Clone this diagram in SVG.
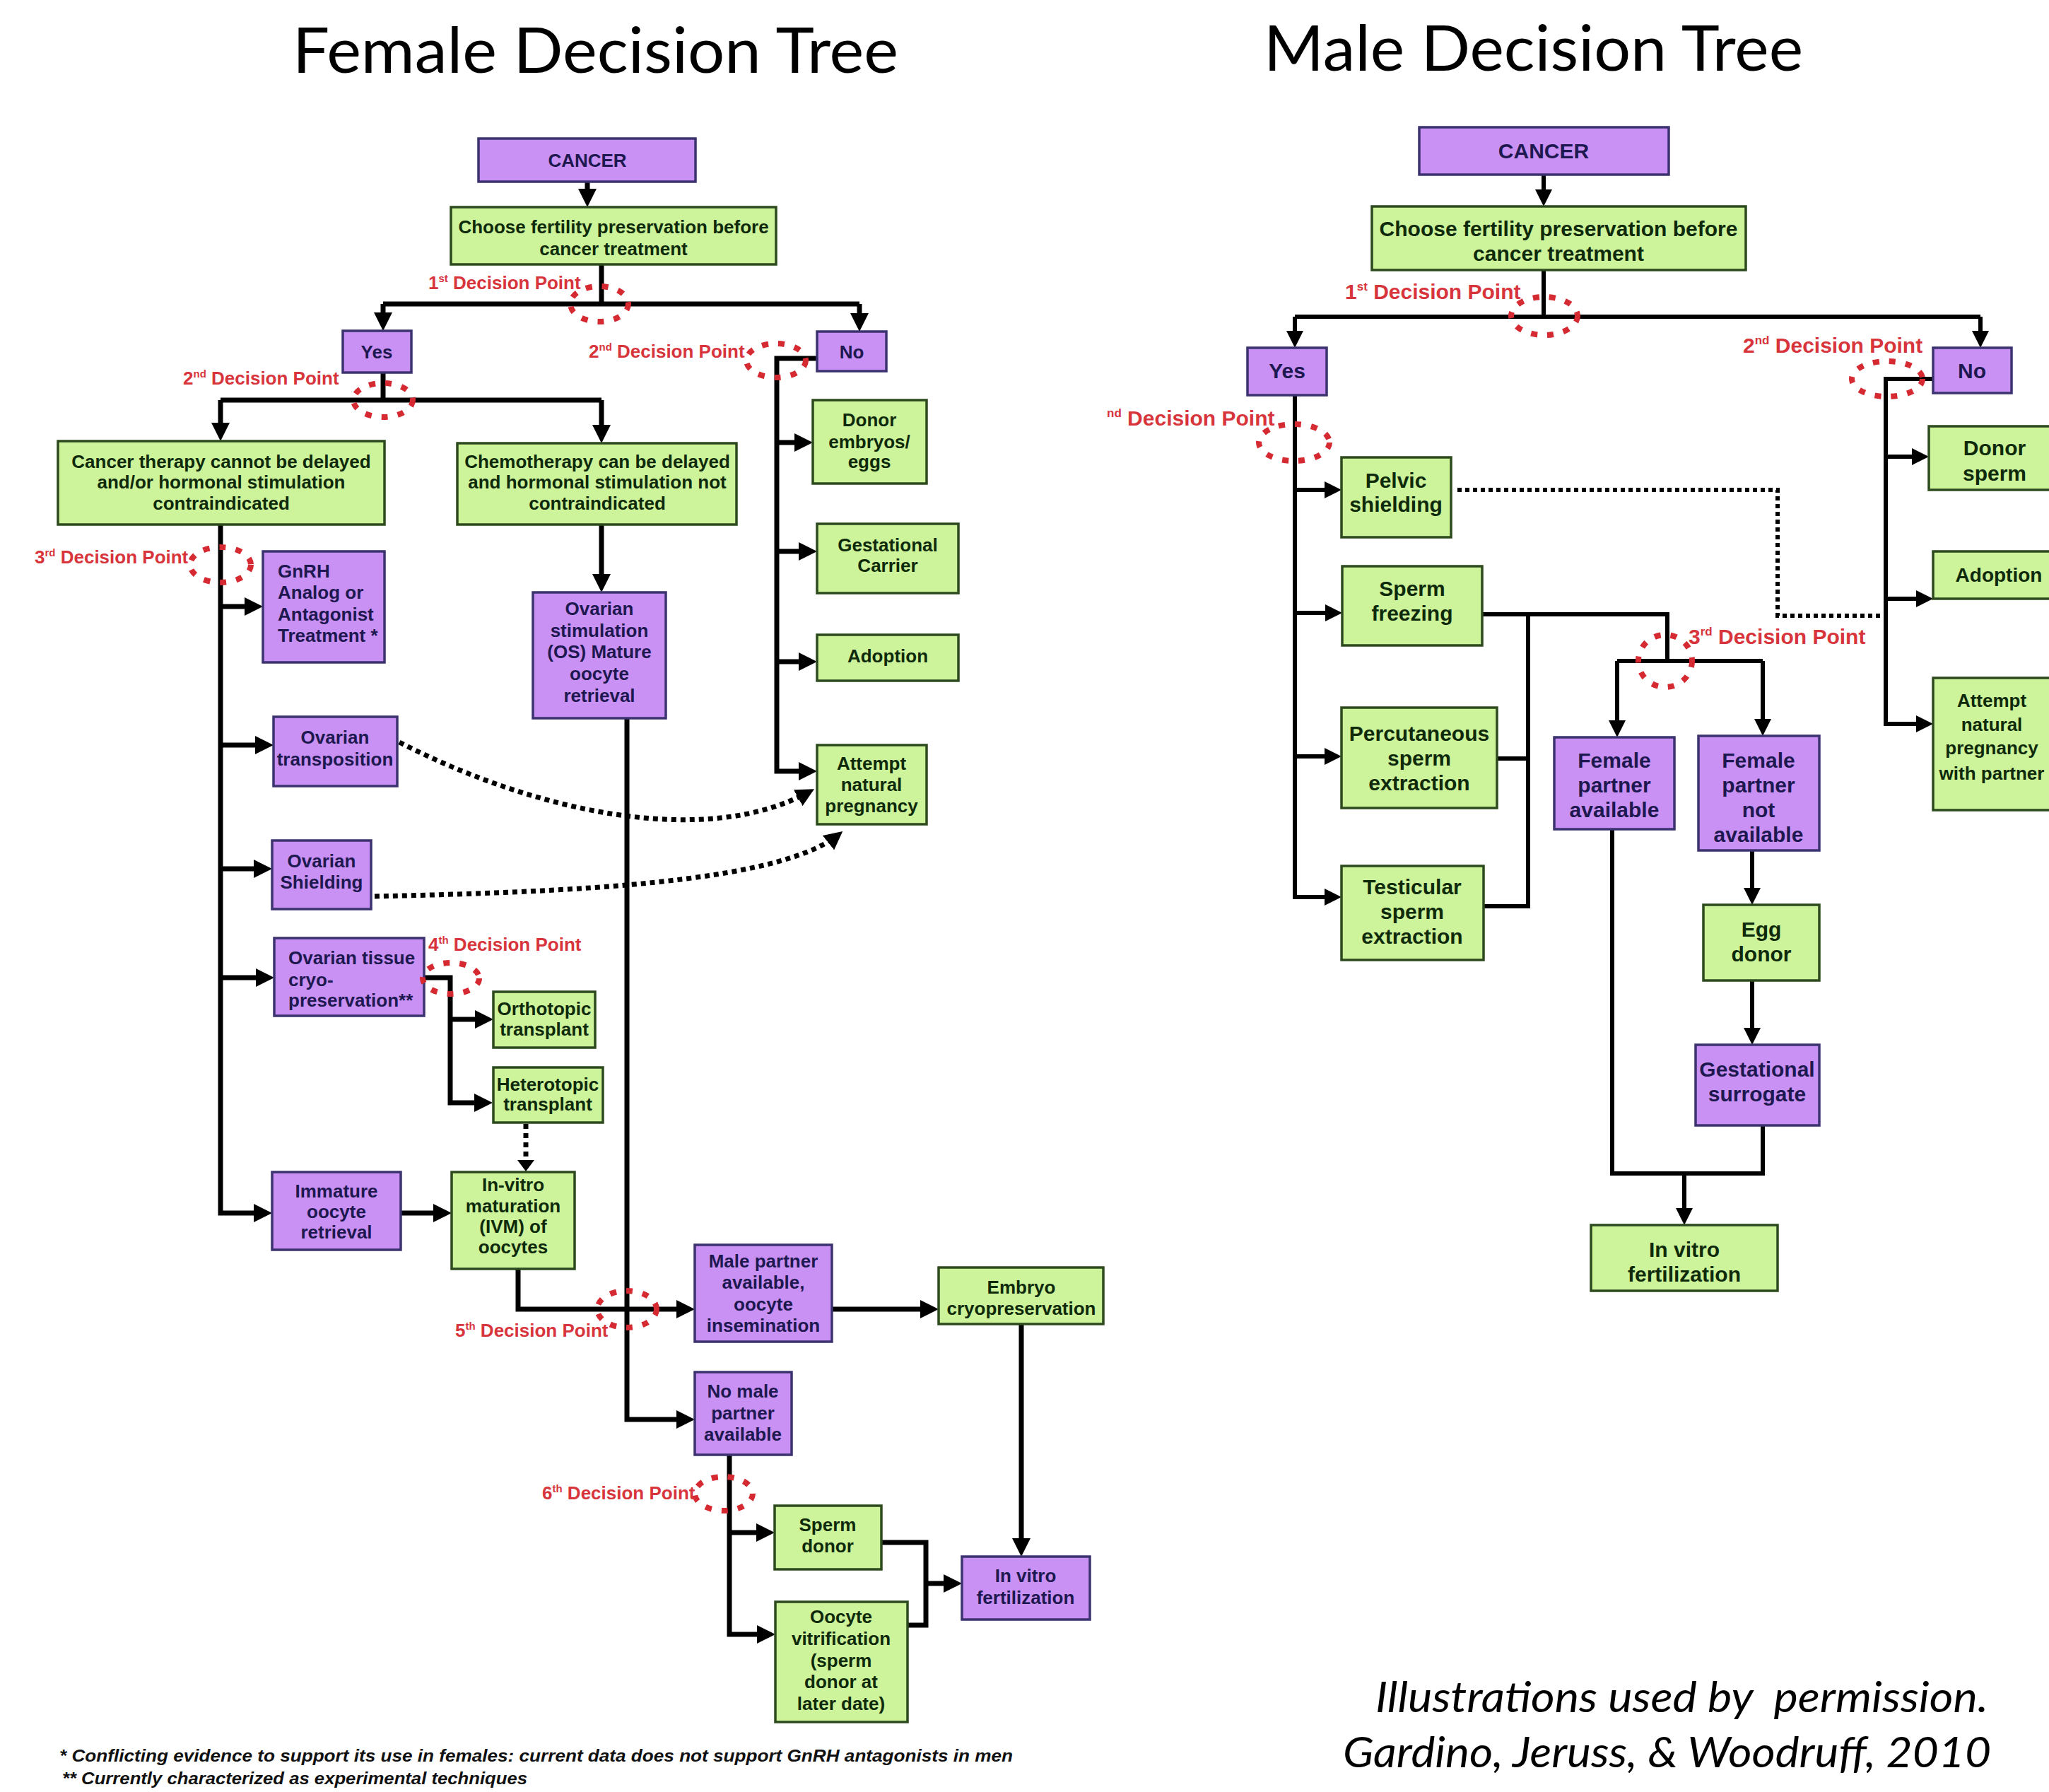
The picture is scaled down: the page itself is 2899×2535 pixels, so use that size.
<svg xmlns="http://www.w3.org/2000/svg" width="2899" height="2535" viewBox="0 0 2899 2535">
<defs>
<style>
.p{fill:#C991F4;stroke:#3b3270;stroke-width:3.5}
.g{fill:#CDF39B;stroke:#2c4a1e;stroke-width:3.5}
.tf{font-family:"Liberation Sans",Arial,sans-serif;font-weight:bold;font-size:26px;text-anchor:middle}
.tm{font-family:"Liberation Sans",Arial,sans-serif;font-weight:bold;font-size:30px;text-anchor:middle}
.st{text-anchor:start}
.tp{fill:#1e1850}
.tg{fill:#0e2a0a}
.dpf{font-family:"Liberation Sans",Arial,sans-serif;font-weight:bold;font-size:26px;fill:#d8343c}
.dpm{font-family:"Liberation Sans",Arial,sans-serif;font-weight:bold;font-size:30px;fill:#d8343c}
.lf{fill:none;stroke:#000;stroke-width:7;stroke-linejoin:miter}
.lm{fill:none;stroke:#000;stroke-width:6;stroke-linejoin:miter}
.af{marker-end:url(#ah)}
.am{marker-end:url(#ahm)}
.df{fill:none;stroke:#000;stroke-width:7;stroke-dasharray:7 6}
.dm{fill:none;stroke:#000;stroke-width:6;stroke-dasharray:6 5}
.el{fill:none;stroke:#d62a33;stroke-width:8;stroke-dasharray:9 14}
.title{font-family:Lato,"Open Sans",sans-serif;font-size:90px;fill:#000}
.foot{font-family:"Liberation Sans",Arial,sans-serif;font-weight:bold;font-style:italic;font-size:23px;fill:#111}
.attr{font-family:Lato,"Open Sans",sans-serif;font-style:italic;font-size:60px;fill:#000}
</style>
<marker id="ah" viewBox="0 0 26 26" markerWidth="26" markerHeight="26" refX="18" refY="13" orient="auto" markerUnits="userSpaceOnUse"><path d="M0,0 L26,13 L0,26 z" fill="#000"/></marker>
<marker id="ahm" viewBox="0 0 24 24" markerWidth="24" markerHeight="24" refX="16" refY="12" orient="auto" markerUnits="userSpaceOnUse"><path d="M0,0 L24,12 L0,24 z" fill="#000"/></marker>
<marker id="ahd" viewBox="0 0 16 24" markerWidth="16" markerHeight="24" refX="8" refY="12" orient="auto" markerUnits="userSpaceOnUse"><path d="M0,0 L16,12 L0,24 z" fill="#000"/></marker>
</defs>
<rect x="0" y="0" width="2899" height="2535" fill="#fff"/>

<text class="title" x="414" y="103" textLength="857" lengthAdjust="spacingAndGlyphs">Female Decision Tree</text>
<text class="title" x="1788" y="100" textLength="763" lengthAdjust="spacingAndGlyphs">Male Decision Tree</text>

<!-- FEMALE connectors -->
<g id="female-connectors">
<path class="lf af" d="M831,257 V285"/>
<path class="lf" d="M851,374 V430"/>
<path class="lf" d="M542,430 H1216"/>
<path class="lf af" d="M542,430 V460"/>
<path class="lf af" d="M1216,430 V461"/>
<path class="lf" d="M542,527 V566"/>
<path class="lf" d="M312,566 H851"/>
<path class="lf af" d="M312,566 V616"/>
<path class="lf af" d="M851,566 V619"/>
<path class="lf af" d="M1156,507 H1099 V1091 H1148"/>
<path class="lf af" d="M1099,626 H1142"/>
<path class="lf af" d="M1099,780 H1148"/>
<path class="lf af" d="M1099,936 H1148"/>
<path class="lf af" d="M312,742 V1716 H377"/>
<path class="lf af" d="M312,858 H364"/>
<path class="lf af" d="M312,1054 H379"/>
<path class="lf af" d="M312,1229 H377"/>
<path class="lf af" d="M312,1383 H380"/>
<path class="lf af" d="M851,742 V830"/>
<path class="lf af" d="M887,1016 V2008 H975"/>
<path class="lf af" d="M600,1383 H637 V1560 H689"/>
<path class="lf af" d="M637,1442 H690"/>
<path class="lf af" d="M567,1716 H631"/>
<path class="df" d="M744,1590 V1649" marker-end="url(#ahd)"/>
<path class="lf af" d="M733,1795 V1852 H975"/>
<path class="lf af" d="M1177,1852 H1320"/>
<path class="lf af" d="M1445,1873 V2194"/>
<path class="lf af" d="M1032,2058 V2312 H1089"/>
<path class="lf af" d="M1032,2168 H1088"/>
<path class="lf" d="M1247,2182 H1310 V2299 H1284"/>
<path class="lf af" d="M1310,2240 H1353"/>
<path class="df af" d="M565,1050 C760,1150 1000,1200 1145,1120"/>
<path class="df af" d="M530,1268 C800,1262 1100,1250 1186,1181"/>
</g>

<!-- FEMALE nodes -->
<g id="f-cancer"><rect class="p" x="677" y="196" width="307" height="61"/><text class="tf tp" x="831" y="236">CANCER</text></g>
<g id="f-choose"><rect class="g" x="638" y="293" width="460" height="81"/><text class="tf tg"><tspan x="868" y="330">Choose fertility preservation before</tspan><tspan x="868" y="361">cancer treatment</tspan></text></g>
<g id="f-yes"><rect class="p" x="485" y="468" width="97" height="59"/><text class="tf tp" x="533" y="507">Yes</text></g>
<g id="f-no"><rect class="p" x="1156" y="469" width="98" height="56"/><text class="tf tp" x="1205" y="507">No</text></g>
<g id="f-cannot"><rect class="g" x="82" y="624" width="462" height="118"/><text class="tf tg"><tspan x="313" y="662">Cancer therapy cannot be delayed</tspan><tspan x="313" y="691">and/or hormonal stimulation</tspan><tspan x="313" y="721">contraindicated</tspan></text></g>
<g id="f-chemo"><rect class="g" x="647" y="627" width="395" height="115"/><text class="tf tg"><tspan x="845" y="662">Chemotherapy can be delayed</tspan><tspan x="845" y="691">and hormonal stimulation not</tspan><tspan x="845" y="721">contraindicated</tspan></text></g>
<g id="f-gnrh"><rect class="p" x="372" y="780" width="172" height="157"/><text class="tf tp st"><tspan x="393" y="817">GnRH</tspan><tspan x="393" y="847">Analog or</tspan><tspan x="393" y="878">Antagonist</tspan><tspan x="393" y="908">Treatment *</tspan></text></g>
<g id="f-os"><rect class="p" x="754" y="838" width="188" height="178"/><text class="tf tp"><tspan x="848" y="870">Ovarian</tspan><tspan x="848" y="901">stimulation</tspan><tspan x="848" y="931">(OS) Mature</tspan><tspan x="848" y="962">oocyte</tspan><tspan x="848" y="993">retrieval</tspan></text></g>
<g id="f-transposition"><rect class="p" x="387" y="1014" width="175" height="98"/><text class="tf tp"><tspan x="474" y="1052">Ovarian</tspan><tspan x="474" y="1083">transposition</tspan></text></g>
<g id="f-shielding"><rect class="p" x="385" y="1189" width="140" height="97"/><text class="tf tp"><tspan x="455" y="1227">Ovarian</tspan><tspan x="455" y="1257">Shielding</tspan></text></g>
<g id="f-cryo"><rect class="p" x="388" y="1327" width="212" height="110"/><text class="tf tp st"><tspan x="408" y="1364">Ovarian tissue</tspan><tspan x="408" y="1395">cryo-</tspan><tspan x="408" y="1424">preservation**</tspan></text></g>
<g id="f-orthotopic"><rect class="g" x="698" y="1403" width="144" height="79"/><text class="tf tg"><tspan x="770" y="1436">Orthotopic</tspan><tspan x="770" y="1465">transplant</tspan></text></g>
<g id="f-heterotopic"><rect class="g" x="698" y="1510" width="155" height="78"/><text class="tf tg"><tspan x="775" y="1543">Heterotopic</tspan><tspan x="775" y="1571">transplant</tspan></text></g>
<g id="f-immature"><rect class="p" x="385" y="1658" width="182" height="110"/><text class="tf tp"><tspan x="476" y="1694">Immature</tspan><tspan x="476" y="1723">oocyte</tspan><tspan x="476" y="1752">retrieval</tspan></text></g>
<g id="f-ivm"><rect class="g" x="639" y="1658" width="174" height="137"/><text class="tf tg"><tspan x="726" y="1685">In-vitro</tspan><tspan x="726" y="1715">maturation</tspan><tspan x="726" y="1744">(IVM) of</tspan><tspan x="726" y="1773">oocytes</tspan></text></g>
<g id="f-malepartner"><rect class="p" x="983" y="1761" width="194" height="137"/><text class="tf tp"><tspan x="1080" y="1793">Male partner</tspan><tspan x="1080" y="1823">available,</tspan><tspan x="1080" y="1854">oocyte</tspan><tspan x="1080" y="1884">insemination</tspan></text></g>
<g id="f-embryo"><rect class="g" x="1328" y="1793" width="233" height="80"/><text class="tf tg"><tspan x="1445" y="1830">Embryo</tspan><tspan x="1445" y="1860">cryopreservation</tspan></text></g>
<g id="f-nomale"><rect class="p" x="983" y="1941" width="137" height="117"/><text class="tf tp"><tspan x="1051" y="1977">No male</tspan><tspan x="1051" y="2008">partner</tspan><tspan x="1051" y="2038">available</tspan></text></g>
<g id="f-spermdonor"><rect class="g" x="1096" y="2130" width="151" height="90"/><text class="tf tg"><tspan x="1171" y="2166">Sperm</tspan><tspan x="1171" y="2196">donor</tspan></text></g>
<g id="f-oocytevit"><rect class="g" x="1097" y="2266" width="187" height="170"/><text class="tf tg"><tspan x="1190" y="2296">Oocyte</tspan><tspan x="1190" y="2327">vitrification</tspan><tspan x="1190" y="2358">(sperm</tspan><tspan x="1190" y="2388">donor at</tspan><tspan x="1190" y="2419">later date)</tspan></text></g>
<g id="f-ivf"><rect class="p" x="1361" y="2202" width="181" height="89"/><text class="tf tp"><tspan x="1451" y="2238">In vitro</tspan><tspan x="1451" y="2269">fertilization</tspan></text></g>
<g id="f-donoremb"><rect class="g" x="1150" y="566" width="161" height="118"/><text class="tf tg"><tspan x="1230" y="603">Donor</tspan><tspan x="1230" y="634">embryos/</tspan><tspan x="1230" y="662">eggs</tspan></text></g>
<g id="f-gestcarrier"><rect class="g" x="1156" y="741" width="200" height="98"/><text class="tf tg"><tspan x="1256" y="780">Gestational</tspan><tspan x="1256" y="809">Carrier</tspan></text></g>
<g id="f-adoption"><rect class="g" x="1156" y="898" width="200" height="65"/><text class="tf tg" x="1256" y="937">Adoption</text></g>
<g id="f-attempt"><rect class="g" x="1156" y="1054" width="155" height="112"/><text class="tf tg"><tspan x="1233" y="1089">Attempt</tspan><tspan x="1233" y="1119">natural</tspan><tspan x="1233" y="1149">pregnancy</tspan></text></g>

<!-- FEMALE decision points -->
<g id="f-decisions">
<ellipse class="el" cx="848" cy="430" rx="41" ry="25"/>
<ellipse class="el" cx="542" cy="566" rx="42" ry="24"/>
<ellipse class="el" cx="1098" cy="510" rx="42" ry="24"/>
<ellipse class="el" cx="312" cy="799" rx="43" ry="25"/>
<ellipse class="el" cx="638" cy="1384" rx="40" ry="22"/>
<ellipse class="el" cx="887" cy="1852" rx="42" ry="26"/>
<ellipse class="el" cx="1024" cy="2113" rx="41" ry="24"/>
<text class="dpf" x="606" y="409">1<tspan font-size="15" dy="-10">st</tspan><tspan dy="10"> Decision Point</tspan></text>
<text class="dpf" x="259" y="544">2<tspan font-size="15" dy="-10">nd</tspan><tspan dy="10"> Decision Point</tspan></text>
<text class="dpf" x="833" y="506">2<tspan font-size="15" dy="-10">nd</tspan><tspan dy="10"> Decision Point</tspan></text>
<text class="dpf" x="49" y="797">3<tspan font-size="15" dy="-10">rd</tspan><tspan dy="10"> Decision Point</tspan></text>
<text class="dpf" x="606" y="1345">4<tspan font-size="15" dy="-10">th</tspan><tspan dy="10"> Decision Point</tspan></text>
<text class="dpf" x="644" y="1891">5<tspan font-size="15" dy="-10">th</tspan><tspan dy="10"> Decision Point</tspan></text>
<text class="dpf" x="767" y="2121">6<tspan font-size="15" dy="-10">th</tspan><tspan dy="10"> Decision Point</tspan></text>
</g>

<text class="foot" x="84" y="2492" textLength="1349" lengthAdjust="spacingAndGlyphs">* Conflicting evidence to support its use in females: current data does not support GnRH antagonists in men</text>
<text class="foot" x="88" y="2524" textLength="658" lengthAdjust="spacingAndGlyphs">** Currently characterized as experimental techniques</text>

<!-- MALE connectors -->
<g id="male-connectors">
<path class="lm am" d="M2184,248 V284"/>
<path class="lm" d="M2184,382 V448"/>
<path class="lm" d="M1832,448 H2802"/>
<path class="lm am" d="M1832,448 V484"/>
<path class="lm am" d="M2802,448 V484"/>
<path class="lm am" d="M1832,559 V1269 H1890"/>
<path class="lm am" d="M1832,693 H1890"/>
<path class="lm am" d="M1832,867 H1891"/>
<path class="lm am" d="M1832,1070 H1890"/>
<path class="lm am" d="M2735,536 H2668 V1024 H2727"/>
<path class="lm am" d="M2668,646 H2721"/>
<path class="lm am" d="M2668,847 H2727"/>
<path class="lm" d="M2097,869 H2359 V935"/>
<path class="lm" d="M2162,869 V1285"/>
<path class="lm" d="M2118,1073 H2162"/>
<path class="lm" d="M2099,1282 H2162"/>
<path class="lm" d="M2288,935 H2494"/>
<path class="lm am" d="M2288,935 V1035"/>
<path class="lm am" d="M2494,935 V1033"/>
<path class="lm am" d="M2479,1203 V1272"/>
<path class="lm am" d="M2479,1387 V1470"/>
<path class="lm" d="M2281,1173 V1660 H2494 V1592"/>
<path class="lm am" d="M2383,1660 V1725"/>
<path class="dm" d="M2062,693 H2515 V871 H2668"/>
</g>

<!-- MALE nodes -->
<g id="m-cancer"><rect class="p" x="2008" y="180" width="353" height="67"/><text class="tm tp" x="2184" y="224">CANCER</text></g>
<g id="m-choose"><rect class="g" x="1941" y="292" width="529" height="90"/><text class="tm tg"><tspan x="2205" y="334">Choose fertility preservation before</tspan><tspan x="2205" y="369">cancer treatment</tspan></text></g>
<g id="m-yes"><rect class="p" x="1765" y="492" width="112" height="67"/><text class="tm tp" x="1821" y="535">Yes</text></g>
<g id="m-no"><rect class="p" x="2735" y="492" width="111" height="64"/><text class="tm tp" x="2790" y="535">No</text></g>
<g id="m-pelvic"><rect class="g" x="1898" y="647" width="155" height="113"/><text class="tm tg"><tspan x="1975" y="690">Pelvic</tspan><tspan x="1975" y="724">shielding</tspan></text></g>
<g id="m-spermfreezing"><rect class="g" x="1899" y="801" width="198" height="112"/><text class="tm tg"><tspan x="1998" y="843">Sperm</tspan><tspan x="1998" y="878">freezing</tspan></text></g>
<g id="m-percutaneous"><rect class="g" x="1898" y="1001" width="220" height="142"/><text class="tm tg"><tspan x="2008" y="1048">Percutaneous</tspan><tspan x="2008" y="1083">sperm</tspan><tspan x="2008" y="1118">extraction</tspan></text></g>
<g id="m-testicular"><rect class="g" x="1898" y="1225" width="201" height="133"/><text class="tm tg"><tspan x="1998" y="1265">Testicular</tspan><tspan x="1998" y="1300">sperm</tspan><tspan x="1998" y="1335">extraction</tspan></text></g>
<g id="m-femaleavail"><rect class="p" x="2199" y="1043" width="170" height="130"/><text class="tm tp"><tspan x="2284" y="1086">Female</tspan><tspan x="2284" y="1121">partner</tspan><tspan x="2284" y="1156">available</tspan></text></g>
<g id="m-femalenot"><rect class="p" x="2403" y="1041" width="171" height="162"/><text class="tm tp"><tspan x="2488" y="1086">Female</tspan><tspan x="2488" y="1121">partner</tspan><tspan x="2488" y="1156">not</tspan><tspan x="2488" y="1191">available</tspan></text></g>
<g id="m-eggdonor"><rect class="g" x="2410" y="1280" width="164" height="107"/><text class="tm tg"><tspan x="2492" y="1325">Egg</tspan><tspan x="2492" y="1360">donor</tspan></text></g>
<g id="m-gestsurrogate"><rect class="p" x="2399" y="1478" width="175" height="114"/><text class="tm tp"><tspan x="2486" y="1523">Gestational</tspan><tspan x="2486" y="1558">surrogate</tspan></text></g>
<g id="m-ivf"><rect class="g" x="2251" y="1733" width="264" height="93"/><text class="tm tg"><tspan x="2383" y="1778">In vitro</tspan><tspan x="2383" y="1813">fertilization</tspan></text></g>
<g id="m-donorsperm"><rect class="g" x="2729" y="603" width="200" height="90"/><text class="tm tg"><tspan x="2822" y="644">Donor</tspan><tspan x="2822" y="680">sperm</tspan></text></g>
<g id="m-adoption"><rect class="g" x="2735" y="780" width="200" height="67"/><text class="tm tg" x="2828" y="823" style="font-size:28px">Adoption</text></g>
<g id="m-attempt"><rect class="g" x="2735" y="959" width="210" height="187"/><text class="tm tg" style="font-size:26px"><tspan x="2818" y="1000">Attempt</tspan><tspan x="2818" y="1034">natural</tspan><tspan x="2818" y="1067">pregnancy</tspan><tspan x="2818" y="1103">with partner</tspan></text></g>

<!-- MALE decision points -->
<g id="m-decisions">
<ellipse class="el" cx="2185" cy="447" rx="47" ry="27"/>
<ellipse class="el" cx="2670" cy="536" rx="50" ry="25"/>
<ellipse class="el" cx="1831" cy="626" rx="50" ry="26"/>
<ellipse class="el" cx="2356" cy="935" rx="38" ry="37"/>
<text class="dpm" x="1903" y="423">1<tspan font-size="17" dy="-12">st</tspan><tspan dy="12"> Decision Point</tspan></text>
<text class="dpm" x="2466" y="499">2<tspan font-size="17" dy="-12">nd</tspan><tspan dy="12"> Decision Point</tspan></text>
<text class="dpm" x="1566" y="602"><tspan font-size="17" dy="-12">nd</tspan><tspan dy="12"> Decision Point</tspan></text>
<text class="dpm" x="2389" y="911">3<tspan font-size="17" dy="-12">rd</tspan><tspan dy="12"> Decision Point</tspan></text>
</g>

<text class="attr" x="1946" y="2422" textLength="867" lengthAdjust="spacingAndGlyphs" xml:space="preserve">Illustrations used by  permission.</text>
<text class="attr" x="1900" y="2500" textLength="917" lengthAdjust="spacingAndGlyphs">Gardino, Jeruss, &amp; Woodruff, 2010</text>
</svg>
